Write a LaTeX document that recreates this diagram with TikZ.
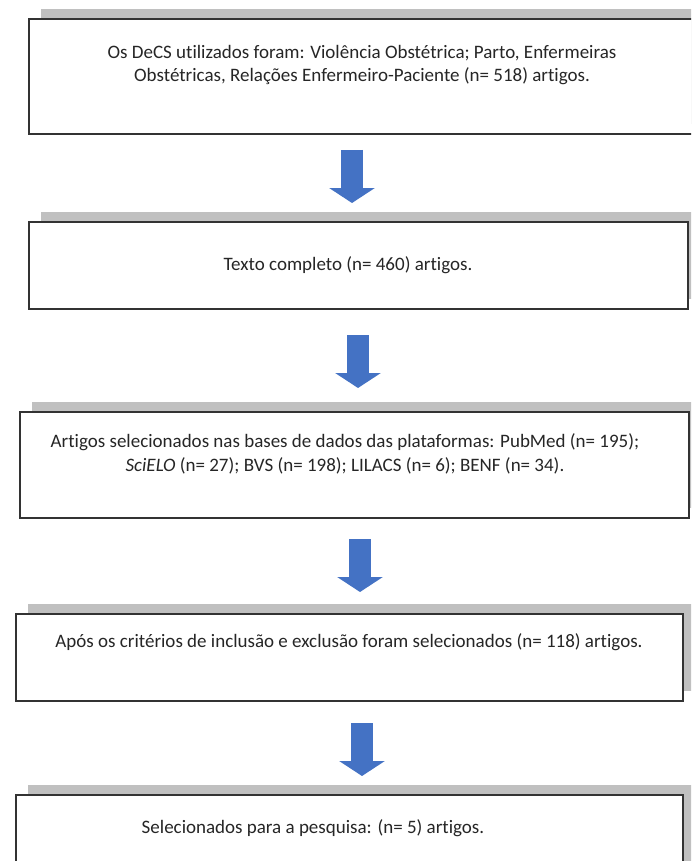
\documentclass[tikz,border=0pt]{standalone}
\usepackage{fontspec}
\setmainfont{Carlito}[Ligatures={NoCommon}]
\usetikzlibrary{arrows.meta,shadows}
\definecolor{arrowblue}{HTML}{4472C4}
\definecolor{shadowgray}{HTML}{C0C0C0}
\definecolor{boxline}{HTML}{333333}
\tikzset{
  box/.style={draw=boxline, line width=1.6pt, fill=white, rectangle, inner sep=0pt,
    general shadow={shadow xshift=12pt, shadow yshift=10pt, fill=shadowgray}},
  lbl/.style={align=center, inner sep=0pt, text=black!85, font=\fontsize{19}{23.5}\selectfont},
  bigarrow/.style={draw=arrowblue, line width=22pt, -{Triangle[width=45pt,length=15pt]}}
}
\begin{document}
\begin{tikzpicture}[x=1pt,y=-1pt]
\useasboundingbox (0,0) rectangle (691,861);
\clip (0,0) rectangle (691,861);
\fill[white] (0,0) rectangle (691,861);
% boxes
\node[box, minimum width=680pt, minimum height=115pt] (b1) at (369,76.5) {};
\node[box, minimum width=659pt, minimum height=87pt] (b2) at (358.5,265.5) {};
\node[box, minimum width=669pt, minimum height=106pt] (b3) at (354.5,465) {};
\node[box, minimum width=667pt, minimum height=87pt] (b4) at (349.5,657.5) {};
\node[box, minimum width=667pt, minimum height=85pt] (b5) at (349.5,837.5) {};
% texts
\node[lbl] (t1) at (362,65) {Os DeCS utilizados foram: Violência Obstétrica; Parto, Enfermeiras\\Obstétricas, Relações Enfermeiro-Paciente (n= 518) artigos.};
\node[lbl] (t2) at (348,265) {Texto completo (n= 460) artigos.};
\node[lbl] (t3) at (345,454) {Artigos selecionados nas bases de dados das plataformas: PubMed (n= 195);\\\textit{SciELO} (n= 27); BVS (n= 198); LILACS (n= 6); BENF (n= 34).};
\node[lbl] (t4) at (349,642) {Após os critérios de inclusão e exclusão foram selecionados (n= 118) artigos.};
\node[lbl] (t5) at (313,828) {Selecionados para a pesquisa: (n= 5) artigos.};
% arrows
\coordinate (a1s) at (352,150); \coordinate (a1e) at (352,203);
\coordinate (a2s) at (358,335); \coordinate (a2e) at (358,388);
\coordinate (a3s) at (360,539); \coordinate (a3e) at (360,592);
\coordinate (a4s) at (362,723); \coordinate (a4e) at (362,776);
\draw[bigarrow] (a1s) -- (a1e);
\draw[bigarrow] (a2s) -- (a2e);
\draw[bigarrow] (a3s) -- (a3e);
\draw[bigarrow] (a4s) -- (a4e);
\end{tikzpicture}
\end{document}
